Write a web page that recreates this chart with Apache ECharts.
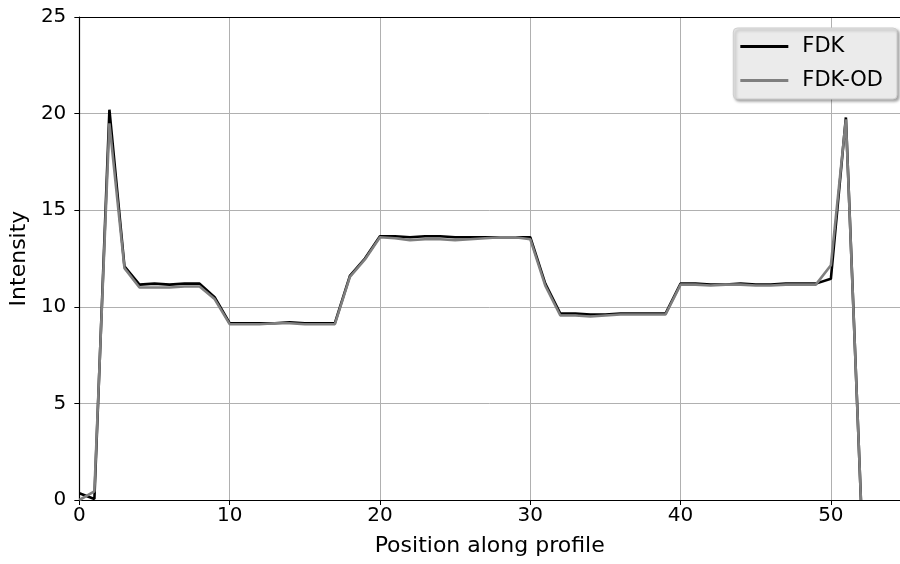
<!DOCTYPE html>
<html>
<head>
<meta charset="utf-8">
<script src="https://cdn.jsdelivr.net/npm/echarts@6/dist/echarts.min.js"></script>
<style>html,body{margin:0;padding:0;background:#fff}#c{width:900px;height:564px}</style>
</head>
<body>
<div id="c"></div>
<script>
const positions = [0,1,2,3,4,5,6,7,8,9,10,11,12,13,14,15,16,17,18,19,20,21,22,23,24,25,26,27,28,29,30,31,32,33,34,35,36,37,38,39,40,41,42,43,44,45,46,47,48,49,50,51,52];
const fdk = [0.35,0.05,20.2,12.1,11.15,11.2,11.15,11.2,11.2,10.5,9.15,9.15,9.15,9.15,9.2,9.15,9.15,9.15,11.6,12.5,13.65,13.65,13.6,13.65,13.65,13.6,13.6,13.6,13.6,13.6,13.6,11.2,9.65,9.65,9.6,9.6,9.65,9.65,9.65,9.65,11.2,11.2,11.15,11.15,11.2,11.15,11.15,11.2,11.2,11.2,11.45,19.8,0];
const fdkOd = [0.0,0.45,19.5,12.0,11.0,11.0,11.0,11.05,11.05,10.4,9.1,9.1,9.1,9.15,9.15,9.1,9.1,9.1,11.55,12.45,13.6,13.55,13.45,13.5,13.5,13.45,13.5,13.55,13.6,13.6,13.5,11.1,9.55,9.55,9.5,9.55,9.6,9.6,9.6,9.6,11.15,11.15,11.1,11.15,11.15,11.1,11.1,11.15,11.15,11.15,12.15,19.7,0];
const yTicks = [0,5,10,15,20,25];
const xTicks = [0,10,20,30,40,50];

const font = 'DejaVu Sans';
const chart = echarts.init(document.getElementById('c'), null, {renderer:'canvas'});
chart.setOption({
  animation:false,
  backgroundColor:'#fff',
  grid:{left:79,right:0,top:17,bottom:64,containLabel:false},
  legend:{
    right:3, top:28,
    orient:'vertical',
    itemWidth:48, itemHeight:3, itemGap:13,
    icon:'rect',
    padding:[8,14,8,7],
    backgroundColor:'#ebebeb',
    borderColor:'#cfcfcf', borderWidth:1, borderRadius:4,
    shadowColor:'rgba(0,0,0,0.35)', shadowBlur:3, shadowOffsetX:2, shadowOffsetY:2,
    textStyle:{fontFamily:font,fontSize:21,color:'#000',padding:[0,0,0,9]},
    data:['FDK','FDK-OD']
  },
  xAxis:[{
    type:'value', min:0, max:54.6, interval:10,
    name:'Position along profile', nameLocation:'middle', nameGap:35,
    nameTextStyle:{fontFamily:font,fontSize:22,color:'#000'},
    axisLine:{show:true,lineStyle:{color:'#000',width:1.2}},
    axisTick:{show:true,length:5,inside:false,lineStyle:{color:'#000'},customValues:xTicks},
    axisLabel:{fontFamily:font,fontSize:20,color:'#000',margin:6,customValues:xTicks},
    splitLine:{show:true,lineStyle:{color:'#b0b0b0',width:1}}
  },{
    type:'value', position:'top', min:0, max:54.6,
    axisLine:{show:true,lineStyle:{color:'#000',width:1.2}},
    axisTick:{show:false},axisLabel:{show:false},splitLine:{show:false}
  }],
  yAxis:{
    type:'value', min:0, max:25, interval:5,
    name:'Intensity', nameLocation:'middle', nameGap:45, nameRotate:90,
    nameTextStyle:{fontFamily:font,fontSize:22,color:'#000'},
    axisLine:{show:true,lineStyle:{color:'#000',width:1.2}},
    axisTick:{show:true,length:5,lineStyle:{color:'#000'},customValues:yTicks},
    axisLabel:{fontFamily:font,fontSize:20,color:'#000',margin:13,customValues:yTicks},
    splitLine:{show:true,lineStyle:{color:'#b0b0b0',width:1}}
  },
  series:[
    {name:'FDK',type:'line',showSymbol:false,clip:true,color:'#000000',
     lineStyle:{width:2.6,color:'#000000'},
     data:positions.map((p,i)=>[p,fdk[i]])},
    {name:'FDK-OD',type:'line',showSymbol:false,clip:true,color:'#7f7f7f',
     lineStyle:{width:2.6,color:'#7f7f7f'},
     data:positions.map((p,i)=>[p,fdkOd[i]])}
  ]
});
</script>
</body>
</html>
